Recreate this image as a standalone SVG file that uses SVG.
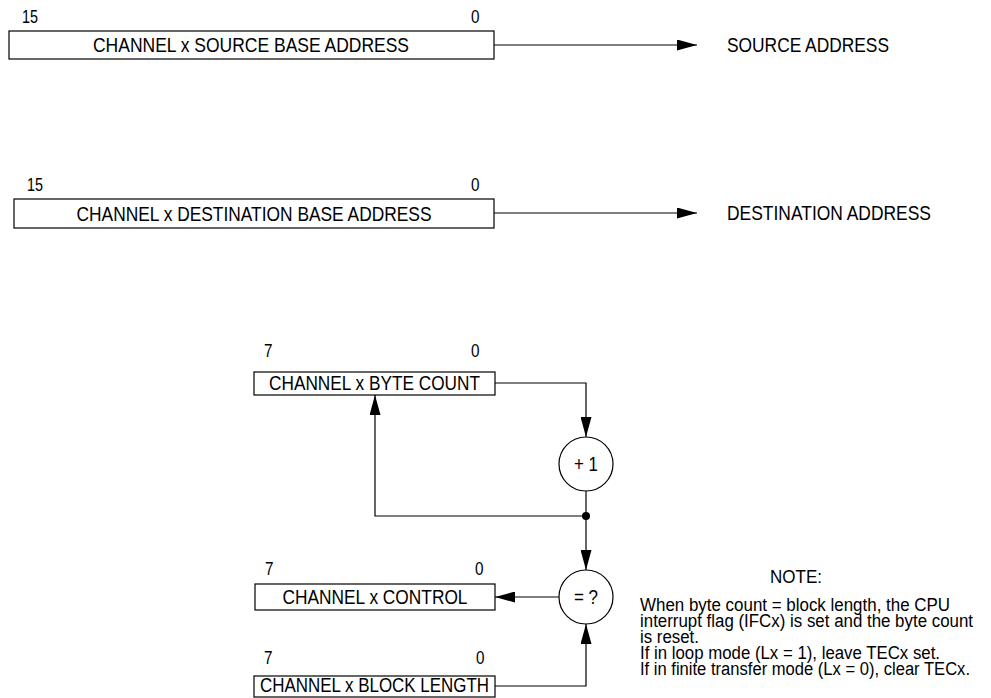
<svg xmlns="http://www.w3.org/2000/svg" width="991" height="698" viewBox="0 0 991 698">
<style>
text{font-family:"Liberation Sans",Arial,sans-serif;fill:#000}
.box{fill:#fff;stroke:#000;stroke-width:1.2}
.op{fill:#fff;stroke:#000;stroke-width:1.2}
.t{font-size:21px}
.m{text-anchor:middle}
.b{font-size:18px}
.n{font-size:18px}
.c{fill:none;stroke:#000;stroke-width:1.2}
</style>
<defs>
<marker id="ah" markerUnits="userSpaceOnUse" markerWidth="20" markerHeight="11" refX="20" refY="5.5" orient="auto"><path d="M0,0 L20,5.5 L0,11 z" fill="#000"/></marker>
</defs>
<rect x="0" y="0" width="991" height="698" fill="#fff"/>
<g id="connectors">
<path class="c" d="M494,45 H697" marker-end="url(#ah)"/>
<path class="c" d="M494,213 H697" marker-end="url(#ah)"/>
<path class="c" d="M495,383 H586 V437" marker-end="url(#ah)"/>
<path class="c" d="M586,491 V570" marker-end="url(#ah)"/>
<path class="c" d="M586,516 H375 V395" marker-end="url(#ah)"/>
<path class="c" d="M559,597 H495" marker-end="url(#ah)"/>
<path class="c" d="M495,686 H586 V624" marker-end="url(#ah)"/>
<circle cx="586" cy="516" r="4" fill="#000"/>
</g>
<g id="src">
<text class="b" x="22" y="23" textLength="16" lengthAdjust="spacingAndGlyphs">15</text>
<text class="b" x="471" y="23" textLength="8.5" lengthAdjust="spacingAndGlyphs">0</text>
<rect class="box" x="9" y="31" width="485" height="28"/>
<text class="t m" x="251" y="52" textLength="316" lengthAdjust="spacingAndGlyphs">CHANNEL x SOURCE BASE ADDRESS</text>
</g>
<g id="srcaddr"><text class="t" x="727" y="52" textLength="162" lengthAdjust="spacingAndGlyphs">SOURCE ADDRESS</text></g>
<g id="dst">
<text class="b" x="27" y="191" textLength="16" lengthAdjust="spacingAndGlyphs">15</text>
<text class="b" x="471" y="191" textLength="8.5" lengthAdjust="spacingAndGlyphs">0</text>
<rect class="box" x="14" y="199" width="480" height="29"/>
<text class="t m" x="254" y="221" textLength="355" lengthAdjust="spacingAndGlyphs">CHANNEL x DESTINATION BASE ADDRESS</text>
</g>
<g id="dstaddr"><text class="t" x="727" y="220" textLength="204" lengthAdjust="spacingAndGlyphs">DESTINATION ADDRESS</text></g>
<g id="bytecount">
<text class="b" x="264" y="357" textLength="8.5" lengthAdjust="spacingAndGlyphs">7</text>
<text class="b" x="471" y="357" textLength="8.5" lengthAdjust="spacingAndGlyphs">0</text>
<rect class="box" x="254" y="372" width="241" height="23"/>
<text class="t m" x="374.5" y="390" textLength="211" lengthAdjust="spacingAndGlyphs">CHANNEL x BYTE COUNT</text>
</g>
<g id="inc">
<circle class="op" cx="586" cy="464" r="27"/>
<text class="t m" x="586" y="471" textLength="24" lengthAdjust="spacingAndGlyphs">+ 1</text>
</g>
<g id="cmp">
<circle class="op" cx="586" cy="597" r="27"/>
<text class="t m" x="586" y="604" textLength="24" lengthAdjust="spacingAndGlyphs">= ?</text>
</g>
<g id="control">
<text class="b" x="265" y="575" textLength="8.5" lengthAdjust="spacingAndGlyphs">7</text>
<text class="b" x="475" y="575" textLength="8.5" lengthAdjust="spacingAndGlyphs">0</text>
<rect class="box" x="255" y="584" width="240" height="26"/>
<text class="t m" x="375" y="604" textLength="185" lengthAdjust="spacingAndGlyphs">CHANNEL x CONTROL</text>
</g>
<g id="blocklength">
<text class="b" x="264" y="664" textLength="8.5" lengthAdjust="spacingAndGlyphs">7</text>
<text class="b" x="476" y="664" textLength="8.5" lengthAdjust="spacingAndGlyphs">0</text>
<rect class="box" x="254" y="676" width="241" height="21"/>
<text class="t m" x="374.5" y="692" textLength="229" lengthAdjust="spacingAndGlyphs">CHANNEL x BLOCK LENGTH</text>
</g>
<g id="note">
<text class="n m" x="796" y="583" textLength="52" lengthAdjust="spacingAndGlyphs">NOTE:</text>
<text class="n" x="640" y="611" textLength="310" lengthAdjust="spacingAndGlyphs">When byte count = block length, the CPU</text>
<text class="n" x="640" y="627" textLength="333" lengthAdjust="spacingAndGlyphs">interrupt flag (IFCx) is set and the byte count</text>
<text class="n" x="640" y="643" textLength="59" lengthAdjust="spacingAndGlyphs">is reset.</text>
<text class="n" x="640" y="659" textLength="300" lengthAdjust="spacingAndGlyphs">If in loop mode (Lx = 1), leave TECx set.</text>
<text class="n" x="640" y="675" textLength="330" lengthAdjust="spacingAndGlyphs">If in finite transfer mode (Lx = 0), clear TECx.</text>
</g>
</svg>
